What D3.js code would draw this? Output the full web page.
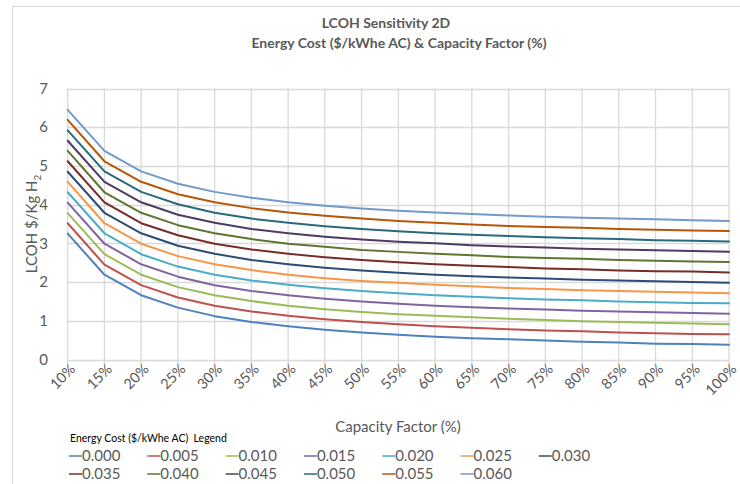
<!DOCTYPE html>
<html>
<head>
<meta charset="utf-8">
<script src="https://cdn.jsdelivr.net/npm/d3@7"></script>
<style>
  html, body { margin: 0; padding: 0; background: #fff; }
  svg { display: block; font-family: Lato, "Open Sans", sans-serif; }
  .keep-space { white-space: pre; }
</style>
</head>
<body>
<svg id="chart" width="740" height="484"></svg>
<script>
// Capacity factor categories (x axis)
const capacityFactors = ["10%","15%","20%","25%","30%","35%","40%","45%","50%","55%","60%","65%","70%","75%","80%","85%","90%","95%","100%"];

// Energy cost levels ($/kWhe AC), one line each
const energyCosts = ["0.000","0.005","0.010","0.015","0.020","0.025","0.030","0.035","0.040","0.045","0.050","0.055","0.060"];

// LCOH ($/kg H2) per energy cost, across capacity factors
const lcoh000 = [3.25, 2.19, 1.66, 1.34, 1.12, 0.97, 0.86, 0.77, 0.70, 0.64, 0.59, 0.55, 0.52, 0.49, 0.46, 0.44, 0.41, 0.40, 0.38];
const lcoh005 = [3.52, 2.45, 1.92, 1.60, 1.39, 1.24, 1.13, 1.04, 0.97, 0.91, 0.86, 0.82, 0.78, 0.75, 0.73, 0.70, 0.68, 0.66, 0.65];
const lcoh010 = [3.78, 2.72, 2.19, 1.87, 1.66, 1.51, 1.39, 1.30, 1.23, 1.17, 1.13, 1.09, 1.05, 1.02, 0.99, 0.97, 0.95, 0.93, 0.91];
const lcoh015 = [4.05, 2.99, 2.46, 2.14, 1.92, 1.77, 1.66, 1.57, 1.50, 1.44, 1.39, 1.35, 1.32, 1.29, 1.26, 1.24, 1.22, 1.20, 1.18];
const lcoh020 = [4.32, 3.26, 2.72, 2.40, 2.19, 2.04, 1.93, 1.84, 1.77, 1.71, 1.66, 1.62, 1.58, 1.55, 1.53, 1.50, 1.48, 1.46, 1.45];
const lcoh025 = [4.59, 3.52, 2.99, 2.67, 2.46, 2.31, 2.19, 2.10, 2.03, 1.98, 1.93, 1.89, 1.85, 1.82, 1.79, 1.77, 1.75, 1.73, 1.71];
const lcoh030 = [4.85, 3.79, 3.26, 2.94, 2.73, 2.57, 2.46, 2.37, 2.30, 2.24, 2.19, 2.15, 2.12, 2.09, 2.06, 2.04, 2.02, 2.00, 1.98];
const lcoh035 = [5.12, 4.06, 3.52, 3.21, 2.99, 2.84, 2.73, 2.64, 2.57, 2.51, 2.46, 2.42, 2.39, 2.35, 2.33, 2.30, 2.28, 2.27, 2.25];
const lcoh040 = [5.39, 4.32, 3.79, 3.47, 3.26, 3.11, 2.99, 2.91, 2.83, 2.78, 2.73, 2.69, 2.65, 2.62, 2.60, 2.57, 2.55, 2.53, 2.52];
const lcoh045 = [5.65, 4.59, 4.06, 3.74, 3.53, 3.37, 3.26, 3.17, 3.10, 3.04, 3.00, 2.95, 2.92, 2.89, 2.86, 2.84, 2.82, 2.80, 2.78];
const lcoh050 = [5.92, 4.86, 4.33, 4.01, 3.79, 3.64, 3.53, 3.44, 3.37, 3.31, 3.26, 3.22, 3.19, 3.16, 3.13, 3.11, 3.08, 3.07, 3.05];
const lcoh055 = [6.19, 5.12, 4.59, 4.27, 4.06, 3.91, 3.80, 3.71, 3.64, 3.58, 3.53, 3.49, 3.45, 3.42, 3.40, 3.37, 3.35, 3.33, 3.32];
const lcoh060 = [6.45, 5.39, 4.86, 4.54, 4.33, 4.18, 4.06, 3.97, 3.90, 3.84, 3.80, 3.76, 3.72, 3.69, 3.66, 3.64, 3.62, 3.60, 3.58];

const seriesValues = [lcoh000, lcoh005, lcoh010, lcoh015, lcoh020, lcoh025, lcoh030,
                      lcoh035, lcoh040, lcoh045, lcoh050, lcoh055, lcoh060];

const yTicks = [0, 1, 2, 3, 4, 5, 6, 7];

const seriesColors = ["#4F81BD","#C0504D","#9BBB59","#8064A2","#4BACC6","#F79646","#2C4D75",
                      "#772C2A","#5F7530","#4D3B62","#276A7C","#B65708","#729ACA"];

const svg = d3.select("#chart");
const textGrey = "#595959";
const gridGrey = "#D9D9D9";

// Outer chart frame
svg.append("path")
  .attr("d", "M12.5,484 V6.5 H740")
  .attr("fill", "none").attr("stroke", "#D9D9D9").attr("stroke-width", 1);

const plot = { left: 67.7, right: 729, top: 88.5, bottom: 359.5 };

const x = d3.scalePoint().domain(capacityFactors).range([plot.left, plot.right]);
const y = d3.scaleLinear().domain([0, 7]).range([plot.bottom, plot.top]);

// Horizontal gridlines
svg.append("g").selectAll("line").data(yTicks.slice(1)).join("line")
  .attr("x1", plot.left).attr("x2", plot.right)
  .attr("y1", d => Math.round(y(d)) + 0.5).attr("y2", d => Math.round(y(d)) + 0.5)
  .attr("stroke", gridGrey).attr("stroke-width", 1.3);

// Vertical gridlines, extended below the axis as tick marks
svg.append("g").selectAll("line").data(capacityFactors).join("line")
  .attr("x1", d => x(d)).attr("x2", d => x(d))
  .attr("y1", plot.top).attr("y2", plot.bottom + 5)
  .attr("stroke", gridGrey).attr("stroke-width", 1.3);

// X axis baseline
svg.append("line")
  .attr("x1", plot.left).attr("x2", plot.right)
  .attr("y1", Math.round(y(0)) + 0.5).attr("y2", Math.round(y(0)) + 0.5)
  .attr("stroke", gridGrey).attr("stroke-width", 1.3);

// Y axis tick labels
svg.append("g").selectAll("text").data(yTicks).join("text")
  .attr("x", 48).attr("y", d => y(d))
  .attr("dy", "0.35em")
  .attr("text-anchor", "end")
  .attr("font-size", 15).attr("fill", textGrey)
  .text(d => d);

// X axis tick labels, rotated
svg.append("g").selectAll("text").data(capacityFactors).join("text")
  .attr("transform", d => `translate(${x(d) + 5},${plot.bottom + 7}) rotate(-45)`)
  .attr("text-anchor", "end")
  .attr("dy", "0.35em")
  .attr("font-size", 14.5).attr("fill", textGrey)
  .text(d => d);

// Series lines
const line = d3.line()
  .x((d, i) => x(capacityFactors[i]))
  .y(d => y(d));

svg.append("g").selectAll("path").data(seriesValues).join("path")
  .attr("d", d => line(d))
  .attr("fill", "none")
  .attr("stroke", (d, i) => seriesColors[i])
  .attr("stroke-width", 2)
  .attr("stroke-linejoin", "round")
  .attr("stroke-linecap", "round");

// Title
svg.append("text")
  .attr("x", 386).attr("y", 28)
  .attr("text-anchor", "middle")
  .attr("font-size", 14).attr("font-weight", "bold").attr("fill", textGrey)
  .text("LCOH Sensitivity 2D");
svg.append("text")
  .attr("x", 399).attr("y", 48)
  .attr("text-anchor", "middle")
  .attr("font-size", 14).attr("font-weight", "bold").attr("fill", textGrey)
  .text("Energy Cost ($/kWhe AC) & Capacity Factor (%)");

// Y axis title
const yTitle = svg.append("text")
  .attr("transform", "translate(37,224) rotate(-90)")
  .attr("text-anchor", "middle")
  .attr("font-size", 15).attr("fill", textGrey);
yTitle.append("tspan").text("LCOH $/Kg H");
yTitle.append("tspan").attr("font-size", 10).attr("dy", 4).text("2");

// X axis title
svg.append("text")
  .attr("x", 398).attr("y", 432)
  .attr("text-anchor", "middle")
  .attr("font-size", 15).attr("fill", textGrey)
  .text("Capacity Factor (%)");

// Legend
svg.append("text")
  .attr("class", "keep-space")
  .attr("x", 70).attr("y", 442)
  .attr("font-size", 10.5).attr("fill", "#000")
  .text("Energy Cost ($/kWhe AC)  Legend");

const legendCols = 7;
const legend = svg.append("g").selectAll("g").data(energyCosts).join("g")
  .attr("transform", (d, i) => `translate(${69 + (i % legendCols) * 78.3},${i < legendCols ? 456 : 474})`);
legend.append("line")
  .attr("x1", 0).attr("x2", 13).attr("y1", 0).attr("y2", 0)
  .attr("stroke", (d, i) => seriesColors[i]).attr("stroke-width", 1.5);
legend.append("text")
  .attr("x", 13).attr("dy", "0.35em")
  .attr("font-size", 15).attr("fill", textGrey)
  .text(d => d);
</script>
</body>
</html>
